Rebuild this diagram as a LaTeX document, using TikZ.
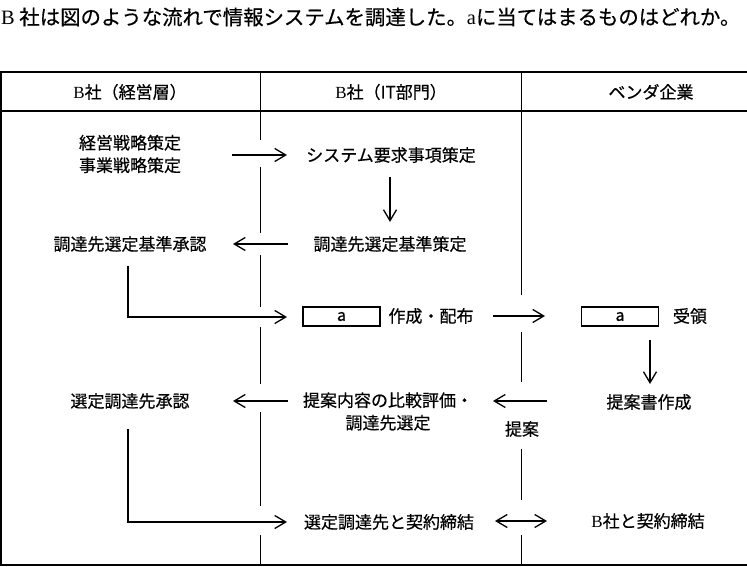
\documentclass[tikz,border=0pt]{standalone}
\usepackage{fontspec}
\setmainfont[FakeBold=0.5]{Noto Sans CJK JP}
\newfontfamily\lat{Liberation Serif}
\usetikzlibrary{arrows.meta}
\begin{document}
\begin{tikzpicture}[x=1pt,y=-1pt,
  lbl/.style={inner sep=0pt, font=\fontsize{17}{22.5}\selectfont, align=center},
  arr/.style={line width=1.3pt, -{Straight Barb[length=11pt,width=13pt]}},
  darr/.style={line width=1.3pt, {Straight Barb[length=11pt,width=13pt]}-{Straight Barb[length=11pt,width=13pt]}},
  abox/.style={draw, line width=1.2pt, minimum width=77pt, minimum height=19pt, inner sep=0pt, font=\fontsize{16}{16}\selectfont},
  rulel/.style={line width=1.5pt},
  divl/.style={line width=1.2pt}]
\useasboundingbox (0,0) rectangle (747,567);

% title
\node[anchor=west, inner sep=0pt, font=\fontsize{20.4}{24}\selectfont] (title) at (1,17)
  {{\lat B} 社は図のような流れで情報システムを調達した。{\lat a}に当てはまるものはどれか。};

% table frame
\draw[rulel] (0,72) -- (747,72);
\draw[rulel] (0,111) -- (747,111);
\draw[line width=2pt] (0,564.5) -- (747,564.5);
\draw[rulel] (1.2,72) -- (1.2,565);

% left divider
\draw[divl] (260.5,72) -- (260.5,140);
\draw[divl] (260.5,167) -- (260.5,233);
\draw[divl] (260.5,255) -- (260.5,307);
\draw[divl] (260.5,327) -- (260.5,384);
\draw[divl] (260.5,412) -- (260.5,506);
\draw[divl] (260.5,535) -- (260.5,565);
% right divider
\draw[divl] (521.5,72) -- (521.5,295);
\draw[divl] (521.5,332) -- (521.5,382);
\draw[divl] (521.5,449) -- (521.5,500);
\draw[divl] (521.5,535) -- (521.5,565);

% headers
\node[lbl] (h1) at (130,92) {{\lat B}社（経営層）};
\node[lbl] (h2) at (391,92) {{\lat B}社（IT部門）};
\node[lbl] (h3) at (651,92) {ベンダ企業};

% texts
\node[lbl] (t1) at (130,154) {経営戦略策定\\事業戦略策定};
\node[lbl] (t2) at (391,155) {システム要求事項策定};
\node[lbl] (t3) at (130,244) {調達先選定基準承認};
\node[lbl] (t4) at (390,244) {調達先選定基準策定};
\node[abox] (a1) at (341.5,316.5) {a};
\node[lbl] (t5) at (431,316) {作成・配布};
\node[abox] (a2) at (620,316.5) {a};
\node[lbl] (t6) at (690,316) {受領};
\node[lbl] (t7) at (130,401) {選定調達先承認};
\node[lbl] (t8) at (388,411.5) {提案内容の比較評価・\\調達先選定};
\node[lbl] (t9) at (649,402) {提案書作成};
\node[lbl] (t10) at (522,429) {提案};
\node[lbl] (t11) at (389,522) {選定調達先と契約締結};
\node[lbl] (t12) at (648,521) {{\lat B}社と契約締結};

% arrow end points
\coordinate (p1s) at (232,155);  \coordinate (p1e) at (287,155);
\coordinate (p2s) at (390,177);  \coordinate (p2e) at (390,222);
\coordinate (p3s) at (288,244);  \coordinate (p3e) at (233,244);
\coordinate (p4s) at (128,266);  \coordinate (p4e) at (287,317);
\coordinate (p5s) at (493,316);  \coordinate (p5e) at (545,316);
\coordinate (p6s) at (650,340);  \coordinate (p6e) at (650,384);
\coordinate (p7s) at (547,401);  \coordinate (p7e) at (493,401);
\coordinate (p8s) at (288,401);  \coordinate (p8e) at (233,401);
\coordinate (p9s) at (128,429);  \coordinate (p9e) at (287,522);
\coordinate (p10s) at (495,521); \coordinate (p10e) at (547,521);

% connectors
\draw[arr] (p1s) -- (p1e);
\draw[arr] (p2s) -- (p2e);
\draw[arr] (p3s) -- (p3e);
\draw[arr] (p4s) |- (p4e);
\draw[arr] (p5s) -- (p5e);
\draw[arr] (p6s) -- (p6e);
\draw[arr] (p7s) -- (p7e);
\draw[arr] (p8s) -- (p8e);
\draw[arr] (p9s) |- (p9e);
\draw[darr] (p10s) -- (p10e);
\end{tikzpicture}
\end{document}
